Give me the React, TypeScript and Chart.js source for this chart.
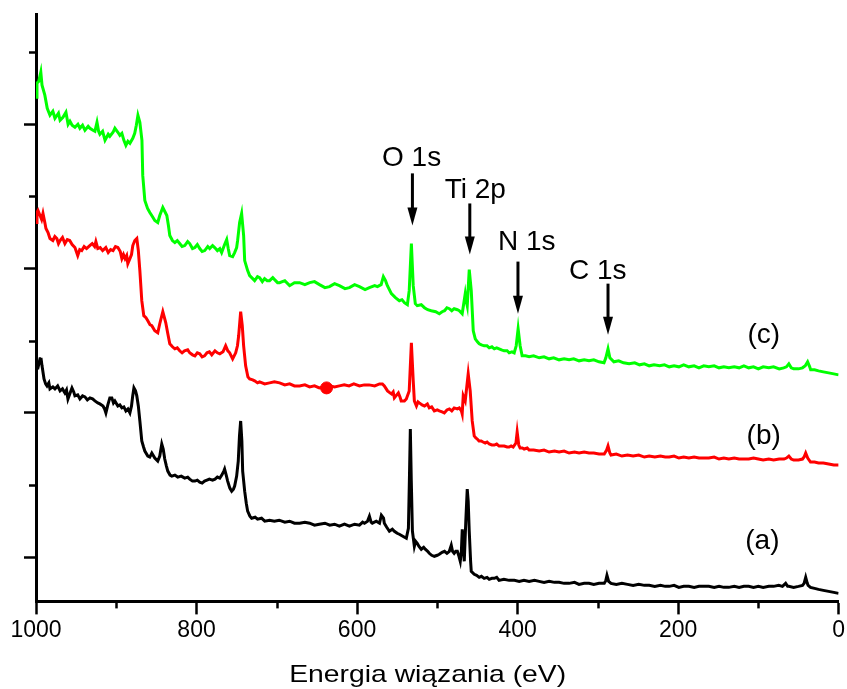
import { useEffect, useRef } from "react";
import { Chart, registerables } from "chart.js";

Chart.register(...registerables);

// ---- data: [binding energy (eV), intensity (a.u.)] ----
const SERIES_C: [number, number][] = [
  [1000,50.3],[998.8,51.7],[996.5,51.9],[994,52.8],[992.5,51.5],[989,50.5],[986,49.2],[982.6,48.5],[979,48.9],[976.4,48.2],[972,48.7],[970,48.0],[966.4,48.3],[962.7,48.8],[960,47.6],[957.7,47.9],[955,47.5],[951.5,47.3],[947.8,47.6],[945.3,47.2],[942,47.5],[939,47.0],[935,47.4],[932.8,47.2],[929,47.0],[926.6,46.9],[924,47.8],[922,46.9],[920.4,46.6],[917,46.9],[914,46.0],[910,46.6],[908,46.4],[904,46.8],[901.7,47.2],[898,46.8],[895.5,46.5],[893,46.7],[890.5,46.0],[888,45.5],[885.5,45.9],[883,45.7],[879.4,46.2],[877,46.7],[875,47.5],[873,48.5],[870.6,47.8],[868,46.0],[867,42.5],[864.4,40.0],[861,39.2],[858.2,38.8],[855,38.4],[852,38.0],[848.3,37.8],[845.8,38.5],[842,39.3],[839.5,38.9],[837,38.5],[835,37.5],[833.3,36.5],[830,36.0],[827,35.8],[824,36.0],[821,35.7],[818,35.4],[814.7,35.5],[811,35.9],[808.5,35.7],[805,35.2],[802,35.3],[799,35.6],[796,35.2],[793,34.9],[789.8,35.0],[786,35.4],[783.6,35.2],[780,35.5],[777.4,35.3],[774,35.0],[771,35.2],[768.7,34.8],[765,35.6],[762.4,36.1],[760.5,35.2],[758.7,34.5],[755,34.4],[752.5,34.8],[750,35.3],[748.8,36.0],[746.3,37.8],[743.8,38.7],[741.3,36.5],[740,34.0],[736.3,33.0],[733.8,32.5],[730,32.2],[727.6,32.0],[724,32.4],[721.4,32.3],[718,31.9],[715.2,32.2],[712,32.0],[709,32.0],[705,32.3],[702.7,32.1],[699,31.8],[696.5,31.8],[690,32.0],[684,31.5],[678,31.8],[671.6,31.8],[665,31.6],[659,31.8],[653,31.9],[646.8,31.6],[640,31.3],[634.3,31.4],[628,31.7],[622,31.5],[615,31.2],[609.5,31.3],[603,31.6],[597,31.4],[590,31.1],[584.6,31.3],[578,31.5],[574.6,31.4],[570,31.6],[567.2,32.4],[564.5,32.0],[562.2,31.5],[557.2,30.7],[552.2,30.3],[547.3,30.0],[544,30.1],[541,29.8],[537.3,29.6],[535,31.0],[532.3,35.7],[530,31.5],[527.4,29.7],[525,29.5],[520,29.6],[516,29.3],[512,29.1],[507.5,29.0],[502,28.9],[497.5,28.7],[494,28.9],[491,29.0],[488,29.3],[485,29.2],[482,29.0],[479,29.2],[475,29.1],[472.6,29.0],[469,28.7],[465.2,30.7],[464,30.0],[462.7,29.5],[460.2,33.1],[457.7,31.0],[455.2,27.0],[452.7,26.2],[450,25.9],[447.8,25.7],[445,25.6],[441.6,25.5],[438,25.5],[435.3,25.3],[432,25.4],[429,25.2],[426,25.3],[423,25.2],[420,25.1],[416.7,25.0],[413,25.0],[410.5,24.8],[407,24.9],[404.2,24.8],[401.7,25.5],[399.3,27.2],[396.8,25.5],[394.3,24.5],[390,24.5],[385.6,24.4],[380,24.5],[373,24.3],[367,24.4],[360.7,24.2],[355,24.3],[348.3,24.1],[342,24.2],[335.8,24.1],[330,24.2],[323.4,24.0],[317,24.1],[311,24.0],[305,24.1],[298.5,23.9],[292.3,23.8],[290,24.3],[287.3,25.2],[285,24.3],[280,23.9],[274,24.0],[268,23.8],[261,23.7],[254,23.8],[248,23.6],[242,23.7],[236,23.5],[230,23.6],[223,23.5],[217,23.6],[211,23.4],[205,23.5],[199,23.4],[193,23.6],[186.6,23.4],[180,23.5],[174,23.3],[168,23.5],[161.7,23.4],[155,23.5],[149,23.3],[143,23.4],[136.8,23.3],[130,23.4],[124,23.3],[118,23.5],[112,23.3],[106,23.4],[100,23.2],[94,23.4],[87,23.3],[81,23.4],[74,23.2],[68.4,23.3],[65,23.4],[62,23.7],[59,23.3],[56,23.2],[50,23.2],[45,23.3],[41.5,23.5],[38.6,23.9],[36,23.4],[34.8,23.1],[30,23.1],[25,23.0],[19,22.9],[12.4,22.8],[6,22.7],[0,22.6]
];

const SERIES_B: [number, number][] = [
  [1000,37.8],[998.8,38.8],[997.5,39.0],[995,38.5],[993,38.1],[991.3,38.7],[989,37.8],[987.6,37.2],[985,36.8],[982.6,36.2],[979,36.0],[976.5,36.4],[974,36.2],[972,35.7],[970,36.0],[967,36.3],[964,35.7],[961,36.1],[958,36.0],[955,35.6],[951.5,35.3],[948,34.5],[945.5,35.1],[943,35.0],[940,35.4],[937,35.2],[933,35.5],[930,35.7],[927,35.4],[925.4,35.9],[923,35.2],[920,35.3],[917,35.0],[913,35.3],[910,34.8],[907,35.1],[904,35.0],[901,35.4],[898,35.3],[895,34.9],[893,34.2],[891,34.6],[889,34.2],[887,34.5],[885.6,33.7],[883,34.2],[881,34.6],[879.4,35.5],[876.9,36.0],[874.4,36.2],[872.5,35.0],[870.6,33.0],[868.2,30.0],[865.7,28.5],[863,28.3],[860.7,28.0],[858,27.6],[855.7,27.5],[852,27.0],[848.3,26.8],[845.8,27.7],[842,28.9],[840,28.3],[838.3,27.8],[836,26.8],[833.3,25.7],[830,25.4],[827,25.2],[824,25.3],[821,25.0],[818,24.8],[815,25.0],[811,25.1],[808.5,24.8],[805,24.6],[802,24.5],[799,24.8],[796,24.7],[793,24.4],[790,24.5],[787,24.8],[784,24.9],[781,24.6],[777,25.0],[774,24.8],[771,24.7],[767,24.9],[763.7,25.5],[761,25.0],[758.7,24.8],[755,24.2],[751.2,24.8],[749,25.5],[747.5,26.5],[745,28.9],[743,27.5],[741.3,25.5],[738.8,23.5],[736,22.4],[733.8,22.2],[730,22.1],[727.6,22.0],[724,21.8],[721.4,21.9],[715,21.7],[709,21.8],[703,21.9],[696.5,21.8],[690,21.6],[684,21.7],[678,21.5],[671.6,21.5],[665,21.6],[659,21.4],[653,21.5],[647,21.3],[641,21.4],[638,21.3],[634,21.5],[628,21.4],[622,21.5],[616,21.6],[610,21.5],[604,21.7],[597,21.5],[591,21.6],[585,21.6],[578,21.5],[572,21.7],[568.4,21.7],[566,21.5],[562,21.0],[559,20.8],[557,20.7],[555,20.9],[553.5,20.3],[550.5,20.6],[548.5,20.8],[546.5,20.4],[545,20.0],[541,20.0],[538.6,20.2],[535,21.0],[532.3,25.8],[530,22.0],[528.6,20.0],[526,19.5],[524,19.9],[522.4,19.8],[519,19.6],[516,19.5],[512.4,19.7],[510,19.3],[507,19.4],[503.7,19.0],[500,19.1],[497.5,19.0],[494,18.9],[491.3,18.8],[488,19.1],[485,19.2],[482,19.0],[479,19.3],[475,19.2],[472.6,19.3],[470,19.0],[469,18.7],[467.7,20.5],[465.2,20.0],[461.5,22.7],[459,21.0],[456.5,18.0],[454,16.5],[452,16.3],[450.2,16.2],[448,16.0],[445.3,16.0],[443,15.9],[440.3,15.8],[438,15.9],[435.3,15.7],[432,15.6],[429,15.6],[426,15.7],[423,15.5],[420,15.5],[416.7,15.5],[413,15.4],[410.5,15.4],[408,15.5],[405.5,15.4],[402,15.8],[400.5,16.9],[398.5,15.6],[396.8,15.3],[394,15.3],[391.8,15.2],[388,15.3],[385.6,15.1],[380,15.1],[373,15.0],[367,15.1],[360.7,14.9],[354,15.0],[348.3,14.9],[342,15.0],[335.8,14.8],[329,14.9],[323.4,14.8],[317,14.9],[311,14.8],[305,14.8],[298.5,14.7],[292,14.7],[289,15.1],[287.3,15.5],[285,14.8],[283.6,14.6],[277,14.7],[270,14.5],[263,14.6],[256,14.5],[249,14.6],[242,14.4],[236,14.5],[229,14.4],[222,14.5],[216,14.4],[211,14.4],[205,14.5],[199,14.3],[193,14.4],[186.6,14.3],[180,14.4],[174,14.3],[168,14.3],[161.7,14.3],[155,14.4],[149,14.2],[143,14.3],[136.8,14.2],[130,14.3],[124,14.2],[118,14.2],[112,14.2],[106,14.3],[100,14.2],[94,14.1],[87,14.2],[81,14.1],[74,14.2],[68,14.2],[65,14.3],[62,14.5],[59,14.2],[56,14.1],[50,14.1],[45,14.2],[43,14.4],[41,14.8],[38.5,14.3],[35,13.9],[30,13.9],[25,13.8],[19,13.8],[12.4,13.7],[6,13.6],[0,13.6]
];

const SERIES_A: [number, number][] = [
  [1000,23.3],[998.8,23.8],[997,23.5],[995,24.2],[993.8,24.3],[992.5,23.5],[990,22.2],[988,21.7],[986.3,21.5],[984,21.8],[982.6,21.2],[979,21.4],[976.4,21.2],[973,21.5],[970,21.0],[967,21.2],[964,20.8],[962,21.1],[960.2,20.2],[957.5,20.8],[955.2,21.3],[953,20.9],[951.5,20.5],[948,20.6],[945.3,20.2],[942,20.5],[939,20.4],[936,20.1],[932.8,20.3],[929.5,20.2],[926.6,20.0],[923,19.8],[920.4,19.7],[916.5,19.5],[914.5,19.2],[912.9,18.8],[910.5,19.6],[908,20.3],[905.5,20.3],[903.5,19.8],[901.7,20.0],[898,19.5],[895.5,19.6],[893,19.3],[890.5,19.4],[888,19.0],[885.5,19.2],[883,18.8],[881,19.5],[879.5,20.5],[878,21.3],[876,21.0],[874.4,20.5],[872.5,19.5],[870.6,18.0],[868.2,16.0],[866,15.4],[864.4,15.0],[860.7,14.5],[858.2,14.4],[855.7,14.8],[852,14.3],[848.3,14.0],[845.8,14.5],[843.3,15.7],[841.5,15.2],[839.6,14.2],[837.5,13.5],[835.8,13.0],[833,12.6],[830.8,12.5],[827,12.6],[823.4,12.4],[819,12.5],[814.7,12.3],[811,12.4],[808.5,12.2],[805,12.0],[802,12.0],[799,12.1],[796,11.9],[793,11.8],[790,12.0],[787,12.1],[784,12.2],[780,12.1],[777,12.2],[774,12.4],[771,12.3],[768.5,12.6],[766,13.0],[765,13.2],[763,12.6],[761.2,12.0],[758.5,11.3],[756.2,11.0],[754,11.2],[752.5,11.5],[750,12.5],[748,14.0],[746.5,16.5],[745,18.0],[743.5,16.0],[742.5,13.0],[740,11.0],[738,9.8],[736.3,9.0],[733.5,8.5],[731.3,8.3],[727,8.4],[724,8.2],[719,8.3],[715,8.0],[709,8.1],[703,8.0],[697,8.1],[690,7.9],[684,8.0],[678,7.8],[671.6,7.8],[665,7.9],[659,7.8],[653,7.6],[647,7.7],[640,7.8],[634,7.6],[628,7.7],[622,7.5],[615.7,7.7],[609.5,7.5],[603,7.7],[597,7.6],[593,7.9],[590.8,7.8],[587,8.0],[584.6,8.5],[582.5,7.9],[581,7.8],[576,8.0],[572,7.8],[569.7,8.6],[567,8.3],[566,7.8],[563,7.4],[559.7,7.0],[556,7.2],[553.5,7.0],[550,6.8],[547.3,6.7],[543,6.5],[538.6,6.3],[536,7.3],[534.8,12.0],[533.6,17.2],[532.4,12.0],[531,7.0],[528.6,5.5],[527,6.0],[525,5.8],[523,5.5],[520,5.2],[517,5.4],[515,5.2],[512,5.0],[510,4.8],[507,4.6],[503.7,4.5],[500,4.6],[497.5,4.7],[494,4.9],[491,5.0],[488,4.8],[485,5.0],[482.6,5.6],[481,5.0],[479,4.8],[477,5.0],[475,5.0],[473,4.5],[471.4,4.0],[470,5.0],[468.9,7.2],[467.5,5.5],[466.4,4.0],[464.5,8.0],[462.7,11.2],[461.5,10.0],[460.2,7.0],[458.5,4.0],[457.7,3.0],[454,2.7],[451,2.6],[447.8,2.4],[445,2.5],[441.6,2.3],[438,2.4],[435.3,2.2],[432,2.3],[429,2.3],[426,2.4],[423,2.1],[417,2.2],[410.5,2.1],[404,2.1],[398,2.0],[392,2.1],[385.6,2.0],[379,2.1],[373,2.0],[367,1.9],[360.7,2.0],[354,1.9],[348.3,1.9],[342,1.8],[335.8,1.8],[329,1.9],[323.4,1.7],[317,1.8],[311,1.8],[305,1.7],[298.5,1.8],[292,1.8],[290,2.1],[288.6,2.6],[286.5,2.0],[285,1.9],[283.6,1.8],[277,1.7],[270,1.8],[263,1.7],[256,1.6],[249,1.7],[242,1.6],[236,1.6],[229,1.5],[222,1.6],[216,1.5],[211,1.5],[205,1.6],[199,1.4],[193,1.5],[186.6,1.5],[180,1.4],[174,1.5],[168,1.5],[161.7,1.5],[155,1.4],[149,1.5],[143,1.4],[136.8,1.4],[130,1.5],[124,1.4],[118,1.5],[112,1.5],[106,1.4],[100,1.5],[94,1.4],[87,1.5],[81,1.5],[74.6,1.6],[70,1.5],[66,1.8],[63.5,1.5],[62,1.5],[56,1.4],[50,1.5],[45,1.6],[43,1.8],[41,2.4],[39,1.8],[38,1.6],[35,1.4],[30,1.3],[25,1.2],[19,1.1],[12.4,1.0],[6,0.9],[0,0.8]
];

// single red marker visible on curve (b)
const DOT_EV = [638];
const DOT_INT = [21.3];

const X_MIN = 0;
const X_MAX = 1000;
const X_STEP = 200;
const X_MINOR_TICKS = [900, 700, 500, 300, 100];
const Y_MIN = 0;
const Y_MAX = 58.6;
const Y_MAJOR_TICKS = [4.4, 18.8, 33.2, 47.6];
const Y_MINOR_TICKS = [11.6, 26.0, 40.4, 54.8];

const X_TITLE = "Energia wiązania (eV)";
const X_TITLE_EV = 512;

const PEAK_LABELS = ["O 1s", "Ti 2p", "N 1s", "C 1s"];
const PEAK_TEXT_EV = [532, 452.7, 388.5, 300];
const PEAK_TEXT_Y = [43.4, 40.2, 35.1, 32.2];
const PEAK_ARROW_EV = [531, 459.5, 399.5, 287.3];
const PEAK_ARROW_TOP = [42.7, 39.7, 33.9, 31.7];
const PEAK_ARROW_TIP = [37.5, 34.6, 28.7, 26.6];

const CURVE_LABELS = ["(c)", "(b)", "(a)"];
const CURVE_LABEL_EV = [93.3, 93.3, 95];
const CURVE_LABEL_Y = [25.8, 15.7, 5.2];

const FONT = 'Arial, "Liberation Sans", sans-serif';

const overlayPlugin = {
  id: "overlay",
  afterDraw(chart: any) {
    const { ctx, chartArea } = chart;
    const xs = chart.scales.x;
    const ys = chart.scales.y;
    ctx.save();
    ctx.strokeStyle = "#000";
    ctx.fillStyle = "#000";
    ctx.lineWidth = 2.5;
    // minor ticks
    X_MINOR_TICKS.forEach((v) => {
      const px = Math.round(xs.getPixelForValue(v)) + 0.5;
      ctx.beginPath();
      ctx.moveTo(px, chartArea.bottom);
      ctx.lineTo(px, chartArea.bottom + 7);
      ctx.stroke();
    });
    Y_MINOR_TICKS.forEach((v) => {
      const py = Math.round(ys.getPixelForValue(v)) + 0.5;
      ctx.beginPath();
      ctx.moveTo(chartArea.left, py);
      ctx.lineTo(chartArea.left - 7, py);
      ctx.stroke();
    });
    // peak annotations
    ctx.font = "28px " + FONT;
    ctx.textAlign = "center";
    ctx.textBaseline = "alphabetic";
    PEAK_LABELS.forEach((lab, i) => {
      ctx.fillText(lab, xs.getPixelForValue(PEAK_TEXT_EV[i]), ys.getPixelForValue(PEAK_TEXT_Y[i]));
      const ax = xs.getPixelForValue(PEAK_ARROW_EV[i]);
      const top = ys.getPixelForValue(PEAK_ARROW_TOP[i]);
      const tip = ys.getPixelForValue(PEAK_ARROW_TIP[i]);
      const headLen = 18;
      const headHalf = 5;
      ctx.lineWidth = 3;
      ctx.beginPath();
      ctx.moveTo(ax, top);
      ctx.lineTo(ax, tip - headLen + 2);
      ctx.stroke();
      ctx.beginPath();
      ctx.moveTo(ax - headHalf, tip - headLen);
      ctx.lineTo(ax + headHalf, tip - headLen);
      ctx.lineTo(ax, tip);
      ctx.closePath();
      ctx.fill();
    });
    CURVE_LABELS.forEach((lab, i) => {
      ctx.fillText(lab, xs.getPixelForValue(CURVE_LABEL_EV[i]), ys.getPixelForValue(CURVE_LABEL_Y[i]));
    });
    // axis title (slightly widened text, as in the source figure)
    ctx.font = "24px " + FONT;
    const tx = xs.getPixelForValue(X_TITLE_EV);
    ctx.translate(tx, chartArea.bottom + 81);
    ctx.scale(1.18, 1);
    ctx.fillText(X_TITLE, 0, 0);
    ctx.restore();
  },
};

export default function App() {
  const ref = useRef<HTMLCanvasElement | null>(null);
  useEffect(() => {
    document.body.style.margin = "0";
    const toXY = (s: [number, number][]) => s.map(([x, y]) => ({ x, y }));
    const line = (label: string, s: [number, number][], color: string) => ({
      label,
      data: toXY(s),
      borderColor: color,
      backgroundColor: color,
      borderWidth: 3,
      pointRadius: 0,
      tension: 0,
      fill: false,
    });
    const chart = new Chart(ref.current as HTMLCanvasElement, {
      type: "line",
      data: {
        datasets: [
          line("(c)", SERIES_C, "#00ff00"),
          line("(b)", SERIES_B, "#ff0000"),
          line("(a)", SERIES_A, "#000000"),
          {
            label: "dot",
            type: "scatter",
            data: DOT_EV.map((x, i) => ({ x, y: DOT_INT[i] })),
            pointRadius: 6,
            pointBackgroundColor: "#ff0000",
            pointBorderColor: "#ff0000",
            showLine: false,
          } as any,
        ],
      },
      options: {
        animation: false,
        responsive: false,
        maintainAspectRatio: false,
        layout: { padding: { left: 24, right: 0, top: 14, bottom: 43 } },
        plugins: { legend: { display: false }, tooltip: { enabled: false } },
        scales: {
          x: {
            type: "linear",
            reverse: true,
            min: X_MIN,
            max: X_MAX,
            ticks: {
              stepSize: X_STEP,
              color: "#000",
              font: { size: 23, family: FONT },
              padding: 2,
              maxRotation: 0,
              callback: (v: any) => String(v),
            },
            grid: { display: true, drawOnChartArea: false, drawTicks: true, tickLength: 13, tickWidth: 2.5, tickColor: "#000" },
            border: { display: true, color: "#000", width: 3 },
          },
          y: {
            type: "linear",
            min: Y_MIN,
            max: Y_MAX,
            afterBuildTicks: (scale: any) => {
              scale.ticks = Y_MAJOR_TICKS.map((v) => ({ value: v }));
            },
            ticks: { display: false },
            grid: { display: true, drawOnChartArea: false, drawTicks: true, tickLength: 12, tickWidth: 2.5, tickColor: "#000" },
            border: { display: true, color: "#000", width: 3 },
          },
        },
      },
      plugins: [overlayPlugin],
    });
    return () => chart.destroy();
  }, []);
  return (
    <div style={{ width: 847, height: 689, position: "relative", background: "#fff" }}>
      <canvas ref={ref} width={847} height={689} style={{ display: "block" }} />
    </div>
  );
}
